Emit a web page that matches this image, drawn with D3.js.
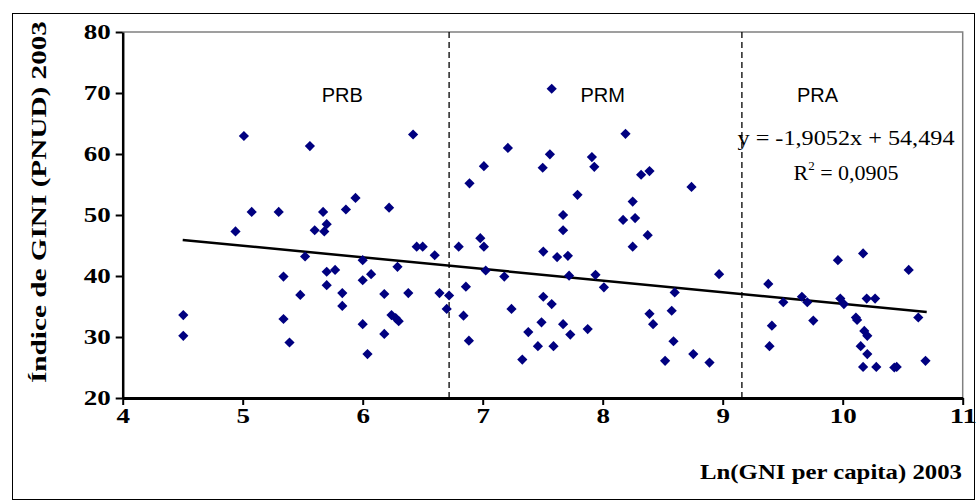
<!DOCTYPE html>
<html>
<head>
<meta charset="utf-8">
<script src="https://cdn.jsdelivr.net/npm/d3@7"></script>
<style>
  html, body { margin: 0; padding: 0; background: #fff; }
  svg { display: block; }
</style>
</head>
<body>
<svg id="chart" width="976" height="502"></svg>
<script>
// ---- data ----
const lnGni = [
  4.505, 4.505, 4.94, 5.01, 5.075, 5.30, 5.34, 5.34, 5.39, 5.48,
  5.52, 5.56, 5.60, 5.67, 5.68, 5.70, 5.70, 5.77, 5.70, 5.83,
  5.83, 5.86, 5.94, 6.00, 6.00, 6.00, 6.04, 6.07, 6.18, 6.18,
  6.22, 6.24, 6.275, 6.30, 6.29, 6.38, 6.42, 6.45, 6.50, 6.60,
  6.64, 6.70, 6.72,
  6.80, 6.84, 6.86, 6.885, 6.89, 6.98, 7.01, 7.01, 7.025, 7.18,
  7.21, 7.24, 7.33, 7.38, 7.46, 7.49, 7.50, 7.505, 7.505, 7.575,
  7.56, 7.575, 7.59, 7.62, 7.67, 7.67, 7.67, 7.71, 7.72, 7.73,
  7.79, 7.875, 7.91, 7.93, 7.94, 8.01, 8.17, 8.19, 8.25, 8.27,
  8.25, 8.32, 8.39, 8.375, 8.39, 8.42, 8.52, 8.575, 8.59, 8.60,
  8.74, 8.755, 8.89, 8.97,
  9.38, 9.41, 9.39, 9.505, 9.66, 9.705, 9.755, 9.96, 9.98, 10.01,
  10.11, 10.12, 10.15, 10.17, 10.18, 10.205, 10.205, 10.17, 10.20, 10.27,
  10.28, 10.43, 10.45, 10.55, 10.63, 10.69
];
const gini = [
  33.6, 30.2, 47.3, 62.95, 50.5, 50.5, 39.9, 32.95, 29.1, 36.9,
  43.2, 61.3, 47.5, 50.5, 47.3, 48.5, 40.7, 41.0, 38.5, 37.2,
  35.1, 50.9, 52.8, 42.6, 39.3, 32.1, 27.2, 40.3, 37.05, 30.5,
  51.2, 33.6, 33.1, 32.6, 41.5, 37.2, 63.2, 44.8, 44.8, 43.4,
  37.2, 34.6, 36.8,
  44.8, 33.5, 38.25, 29.4, 55.2, 46.2, 44.8, 58.0, 40.9, 39.9,
  61.0, 34.6, 26.3, 30.8, 28.5, 32.4, 57.75, 44.0, 36.6, 35.4,
  59.95, 70.7, 28.5, 43.1, 50.0, 47.5, 32.1, 43.3, 40.05, 30.4,
  53.3, 31.3, 59.5, 57.9, 40.2, 38.15, 49.2, 63.3, 52.2, 49.5,
  44.8, 56.6, 57.2, 46.7, 33.8, 32.1, 26.1, 34.3, 29.3, 37.3,
  54.6, 27.2, 25.8, 40.3,
  38.7, 31.85, 28.5, 35.7, 36.6, 35.7, 32.7, 42.6, 36.3, 35.4,
  33.2, 32.8, 28.5, 43.7, 31.0, 30.2, 27.2, 25.1, 36.3, 36.3,
  25.1, 25.0, 25.1, 41.0, 33.2, 26.1
];
const xTicks = [4, 5, 6, 7, 8, 9, 10, 11];
const yTicks = [20, 30, 40, 50, 60, 70, 80];
const groupBounds = [6.72, 9.16];
const groupLabels = ["PRB", "PRM", "PRA"];
const groupLabelX = [5.83, 8.0, 9.79];
const trend = { slope: -1.9052, intercept: 54.494, x0: 4.5, x1: 10.7 };
const eqText = "y = -1,9052x + 54,494";
const r2Value = "0,0905";
const xTitle = "Ln(GNI per capita) 2003";
const yTitle = "Índice de GINI (PNUD) 2003";

// ---- layout ----
const svg = d3.select("#chart");
const L = 122.7, R = 962.7, T = 32, B = 398;
const x = d3.scaleLinear().domain([4, 11]).range([L, R]);
const y = d3.scaleLinear().domain([20, 80]).range([B, T]);
const serif = "'Liberation Serif', 'Times New Roman', serif";
const sans = "'Liberation Sans', Arial, sans-serif";

// outer frame
svg.append("rect").attr("x", 12.5).attr("y", 13.5).attr("width", 962).attr("height", 486)
  .attr("fill", "#fff").attr("stroke", "#000").attr("stroke-width", 1);

// plot area border (top & right grey)
svg.append("path")
  .attr("d", `M${L},${T}H${R}V${B}`)
  .attr("fill", "none").attr("stroke", "#808080").attr("stroke-width", 1.5);

// group separators
svg.append("g").selectAll("line").data(groupBounds).join("line")
  .attr("x1", d => x(d)).attr("x2", d => x(d))
  .attr("y1", T).attr("y2", B)
  .attr("stroke", "#000").attr("stroke-width", 1.3).attr("stroke-dasharray", "6,4");

// axes
const yAxis = svg.append("g").attr("transform", `translate(${L},0)`)
  .call(d3.axisLeft(y).tickValues(yTicks).tickFormat(d3.format("d"))
    .tickSize(7).tickSizeOuter(0).tickPadding(5));
const xAxis = svg.append("g").attr("transform", `translate(0,${B})`)
  .call(d3.axisBottom(x).tickValues(xTicks).tickFormat(d3.format("d"))
    .tickSize(7).tickSizeOuter(0).tickPadding(4));
yAxis.select(".domain").attr("stroke", "#000").attr("stroke-width", 2.5);
xAxis.select(".domain").attr("stroke", "#000").attr("stroke-width", 3);
[yAxis, xAxis].forEach(a => {
  a.selectAll(".tick line").attr("stroke", "#000").attr("stroke-width", 2);
  a.selectAll(".tick text").attr("font-family", serif).attr("font-weight", "bold")
    .attr("font-size", 20).attr("fill", "#000")
    .attr("textLength", d => String(d).length * 13.5)
    .attr("lengthAdjust", "spacingAndGlyphs");
});

// trend line
svg.append("line")
  .attr("x1", x(trend.x0)).attr("y1", y(trend.intercept + trend.slope * trend.x0))
  .attr("x2", x(trend.x1)).attr("y2", y(trend.intercept + trend.slope * trend.x1))
  .attr("stroke", "#000").attr("stroke-width", 2.5);

// points
const pts = lnGni.map((v, i) => [v, gini[i]]);
const sym = d3.symbol(d3.symbolSquare, 52);
svg.append("g").selectAll("path").data(pts).join("path")
  .attr("d", sym)
  .attr("transform", d => `translate(${x(d[0])},${y(d[1])}) rotate(45)`)
  .attr("fill", "#000080");

// group labels
svg.append("g").selectAll("text").data(groupLabels).join("text")
  .attr("x", (d, i) => x(groupLabelX[i])).attr("y", 102)
  .attr("text-anchor", "middle").attr("font-family", sans).attr("font-size", 20)
  .attr("fill", "#000").text(d => d);

// equation
svg.append("text").attr("x", 846).attr("y", 145).attr("text-anchor", "middle")
  .attr("font-family", serif).attr("font-size", 22).attr("fill", "#000")
  .attr("textLength", 217).attr("lengthAdjust", "spacingAndGlyphs").text(eqText);
const r2 = svg.append("text").attr("x", 846).attr("y", 180).attr("text-anchor", "middle")
  .attr("font-family", serif).attr("font-size", 22).attr("fill", "#000");
r2.append("tspan").text("R");
r2.append("tspan").attr("font-size", 13).attr("dy", -10).text("2");
r2.append("tspan").attr("dy", 10).text(" = " + r2Value);

// axis titles
svg.append("text").attr("x", 962).attr("y", 479).attr("text-anchor", "end")
  .attr("font-family", serif).attr("font-weight", "bold").attr("font-size", 22)
  .attr("fill", "#000").attr("textLength", 262).attr("lengthAdjust", "spacingAndGlyphs")
  .text(xTitle);
svg.append("text").attr("transform", "translate(46,202) rotate(-90)")
  .attr("text-anchor", "middle").attr("font-family", serif).attr("font-weight", "bold")
  .attr("font-size", 22).attr("fill", "#000")
  .attr("textLength", 362).attr("lengthAdjust", "spacingAndGlyphs").text(yTitle);
</script>
</body>
</html>
